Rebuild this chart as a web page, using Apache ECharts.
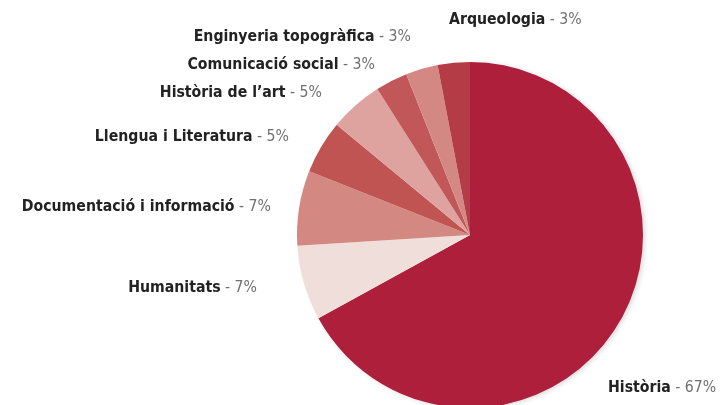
<!DOCTYPE html>
<html>
<head>
<meta charset="utf-8">
<script src="https://cdn.jsdelivr.net/npm/echarts@6/dist/echarts.min.js"></script>
<style>
  html, body { margin: 0; padding: 0; background: #fff; }
  #chart { width: 722px; height: 405px; }
</style>
</head>
<body>
<div id="chart"></div>
<script>
// dades
const names = ['Història', 'Humanitats', 'Documentació i informació', 'Llengua i Literatura',
  'Història de l\u2019art', 'Comunicació social', 'Enginyeria topogràfica', 'Arqueologia']
const values = [67, 7, 7, 5, 5, 3, 3, 3]
const colors = ['#ad1f3b', '#f0dedb', '#d38882', '#c05453', '#dea39e', '#c2575a', '#d48884', '#b43c46']

// posició de les etiquetes (x, y, alineació)
const labelPos = [
  [608, 388, 'left'],
  [257, 288, 'right'],
  [271, 207, 'right'],
  [289, 137, 'right'],
  [322, 93, 'right'],
  [375, 65, 'right'],
  [411, 37, 'right'],
  [449, 20, 'left']
]

const font = '"DejaVu Sans Condensed", Roboto, sans-serif'

const myChart = echarts.init(document.getElementById('chart'))

const option = {
  animation: false,
  series: [{
    type: 'pie',
    center: [470, 235],
    radius: 173,
    startAngle: 90,
    clockwise: true,
    data: names.map((n, i) => ({
      name: n,
      value: values[i],
      // només la porció gran porta ombra
      itemStyle: i === 0
        ? { color: colors[i], shadowBlur: 5, shadowOffsetX: 2, shadowOffsetY: 1, shadowColor: 'rgba(0,0,0,0.15)' }
        : { color: colors[i] }
    })),
    label: {
      show: true,
      position: 'outside',
      alignTo: 'none',
      overflow: 'none',
      formatter: p => '{b|' + p.name + '}{p| - ' + p.value + '%}',
      rich: {
        b: { fontFamily: font, fontWeight: 'bold', fontSize: 15.7, color: '#222' },
        p: { fontFamily: font, fontSize: 15.7, color: '#707070' }
      }
    },
    labelLine: { show: false },
    labelLayout: params => {
      const lp = labelPos[params.dataIndex]
      return { x: lp[0], y: lp[1], align: lp[2], verticalAlign: 'middle', width: 220 }
    },
    emphasis: { disabled: true }
  }]
}

myChart.setOption(option)
</script>
</body>
</html>
